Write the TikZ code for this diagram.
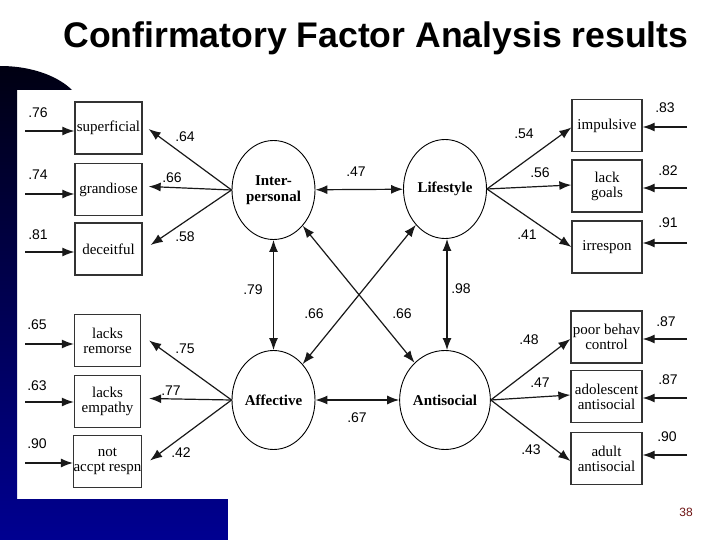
\documentclass[tikz,border=0pt]{standalone}
\usepackage{fontspec}
\setmainfont{Liberation Serif}
\newfontfamily\arialf{Liberation Sans}
\usetikzlibrary{shapes.geometric,arrows.meta}
\definecolor{navytop}{RGB}{0,0,18}
\definecolor{navybot}{RGB}{0,0,145}
\definecolor{pgnum}{RGB}{110,20,20}
\begin{document}
\begin{tikzpicture}[x=1pt,y=-1pt,
  ind/.style={draw=black!80,line width=1.3pt,rectangle,minimum height=52pt,inner sep=0pt,
    font=\fontsize{15}{15}\selectfont,align=center},
  lat/.style={draw=black,line width=0.9pt,ellipse,minimum width=83pt,minimum height=99pt,inner sep=0pt,
    font=\bfseries\fontsize{15}{16}\selectfont,align=center},
  coef/.style={font=\arialf\fontsize{14}{14}\selectfont,inner sep=0pt},
  arr/.style={-{Latex[length=12pt,width=9pt]},line width=1.2pt,draw=black!90},
  darr/.style={{Latex[length=12pt,width=9pt]}-{Latex[length=12pt,width=9pt]},line width=1.2pt,draw=black!90}]
\useasboundingbox (0,0) rectangle (720,540);
\fill[white] (0,0) rectangle (720,540);
% background decoration
\shade[top color=navytop,bottom color=navybot]
  (0,66) .. controls (35,66) and (60,78) .. (72,90) -- (17,90) -- (17,499)
  -- (228,499) -- (228,540) -- (0,540) -- cycle;
% title
\node[font=\arialf\bfseries\fontsize{35.6}{36}\selectfont,inner sep=0pt,anchor=base] (title) at (376,48)
  {Confirmatory Factor Analysis results};
\node[font=\arialf\fontsize{12}{12}\selectfont,text=pgnum,inner sep=0pt] (page) at (686,512) {38};
% latent variables
\node[lat] (ip) at (273.5,190) {Inter-\\personal};
\node[lat] (ls) at (445,189) {Lifestyle};
\node[lat] (af) at (273.5,400) {Affective};
\node[lat] (an) at (445,400) {Antisocial};
% indicators left
\node[ind,minimum width=67pt] (sup) at (108.5,128) {superficial};
\node[ind,minimum width=67pt] (gra) at (108.5,189.5) {grandiose};
\node[ind,minimum width=67pt] (dec) at (108.5,249) {deceitful};
\node[ind,minimum width=66pt] (rem) at (107.5,340.5) {lacks\\remorse};
\node[ind,minimum width=66pt] (emp) at (107.5,401.5) {lacks\\empathy};
\node[ind,minimum width=66pt] (acc) at (107.5,461.5) {not\\accpt respn};
% indicators right
\node[ind,minimum width=70pt] (imp) at (607,125.5) {impulsive};
\node[ind,minimum width=70pt] (goa) at (607,186) {lack\\goals};
\node[ind,minimum width=70pt] (irr) at (607,247) {irrespon};
\node[ind,minimum width=71pt] (pbc) at (606.5,337) {poor behav\\control};
\node[ind,minimum width=71pt] (ado) at (606.5,396.5) {adolescent\\antisocial};
\node[ind,minimum width=71pt] (adu) at (606.5,458.5) {adult\\antisocial};
% error term free ends
\coordinate (e1) at (25,131);
\coordinate (e2) at (25,194);
\coordinate (e3) at (25,252);
\coordinate (e4) at (25,344);
\coordinate (e5) at (25,402);
\coordinate (e6) at (25,463);
\coordinate (e7) at (687,127);
\coordinate (e8) at (687,188);
\coordinate (e9) at (687,243);
\coordinate (e10) at (687,339);
\coordinate (e11) at (687,398);
\coordinate (e12) at (687,455);
% error arrows
\draw[arr] (e1) -- (e1 -| sup.west);
\draw[arr] (e2) -- (e2 -| gra.west);
\draw[arr] (e3) -- (e3 -| dec.west);
\draw[arr] (e4) -- (e4 -| rem.west);
\draw[arr] (e5) -- (e5 -| emp.west);
\draw[arr] (e6) -- (e6 -| acc.west);
\draw[arr] (e7) -- (e7 -| imp.east);
\draw[arr] (e8) -- (e8 -| goa.east);
\draw[arr] (e9) -- (e9 -| irr.east);
\draw[arr] (e10) -- (e10 -| pbc.east);
\draw[arr] (e11) -- (e11 -| ado.east);
\draw[arr] (e12) -- (e12 -| adu.east);
% loadings
\draw[arr] (ip.west) -- ([xshift=6pt,yshift=-1pt]sup.east);
\draw[arr] (ip.west) -- ([xshift=6pt,yshift=3pt]gra.east);
\draw[arr] (ip.west) -- ([xshift=8pt,yshift=4pt]dec.east);
\draw[arr] (af.west) -- ([xshift=8pt,yshift=0pt]rem.east);
\draw[arr] (af.west) -- ([xshift=8pt,yshift=3pt]emp.east);
\draw[arr] (af.west) -- ([xshift=8pt,yshift=1pt]acc.east);
\draw[arr] (ls.east) -- ([yshift=-2pt]imp.west);
\draw[arr] (ls.east) -- ([yshift=1pt]goa.west);
\draw[arr] (ls.east) -- (irr.west);
\draw[arr] (an.east) -- ([yshift=-2pt]pbc.west);
\draw[arr] (an.east) -- ([yshift=1.5pt]ado.west);
\draw[arr] (an.east) -- ([yshift=-2.5pt]adu.west);
% correlations
\draw[darr] (ip) -- (ls);
\draw[darr] (af) -- (an);
\draw[darr] (ip) -- (af);
\draw[darr] ([xshift=2pt]ls.south) -- ([xshift=2pt]an.north);
\draw[darr] (ip) -- (an);
\draw[darr] (ls) -- (af);
% coefficient labels
\node[coef] (c1) at (38,113) {.76};
\node[coef] (c2) at (38,175) {.74};
\node[coef] (c3) at (38,235) {.81};
\node[coef] (c4) at (37,325) {.65};
\node[coef] (c5) at (37,386) {.63};
\node[coef] (c6) at (37,444) {.90};
\node[coef] (c7) at (185,137) {.64};
\node[coef] (c8) at (172,178) {.66};
\node[coef] (c9) at (185,237) {.58};
\node[coef] (c10) at (185,349) {.75};
\node[coef] (c11) at (171,391) {.77};
\node[coef] (c12) at (181,453) {.42};
\node[coef] (c13) at (524,134) {.54};
\node[coef] (c14) at (540,173) {.56};
\node[coef] (c15) at (527,235) {.41};
\node[coef] (c16) at (529,340) {.48};
\node[coef] (c17) at (540,383) {.47};
\node[coef] (c18) at (531,450) {.43};
\node[coef] (c19) at (665,108) {.83};
\node[coef] (c20) at (668,171) {.82};
\node[coef] (c21) at (668,223) {.91};
\node[coef] (c22) at (666,322) {.87};
\node[coef] (c23) at (668,380) {.87};
\node[coef] (c24) at (667,437) {.90};
\node[coef] (c25) at (356,172) {.47};
\node[coef] (c26) at (253,290) {.79};
\node[coef] (c27) at (461,289) {.98};
\node[coef] (c28) at (314,314) {.66};
\node[coef] (c29) at (402,314) {.66};
\node[coef] (c30) at (357,418) {.67};
\end{tikzpicture}
\end{document}
